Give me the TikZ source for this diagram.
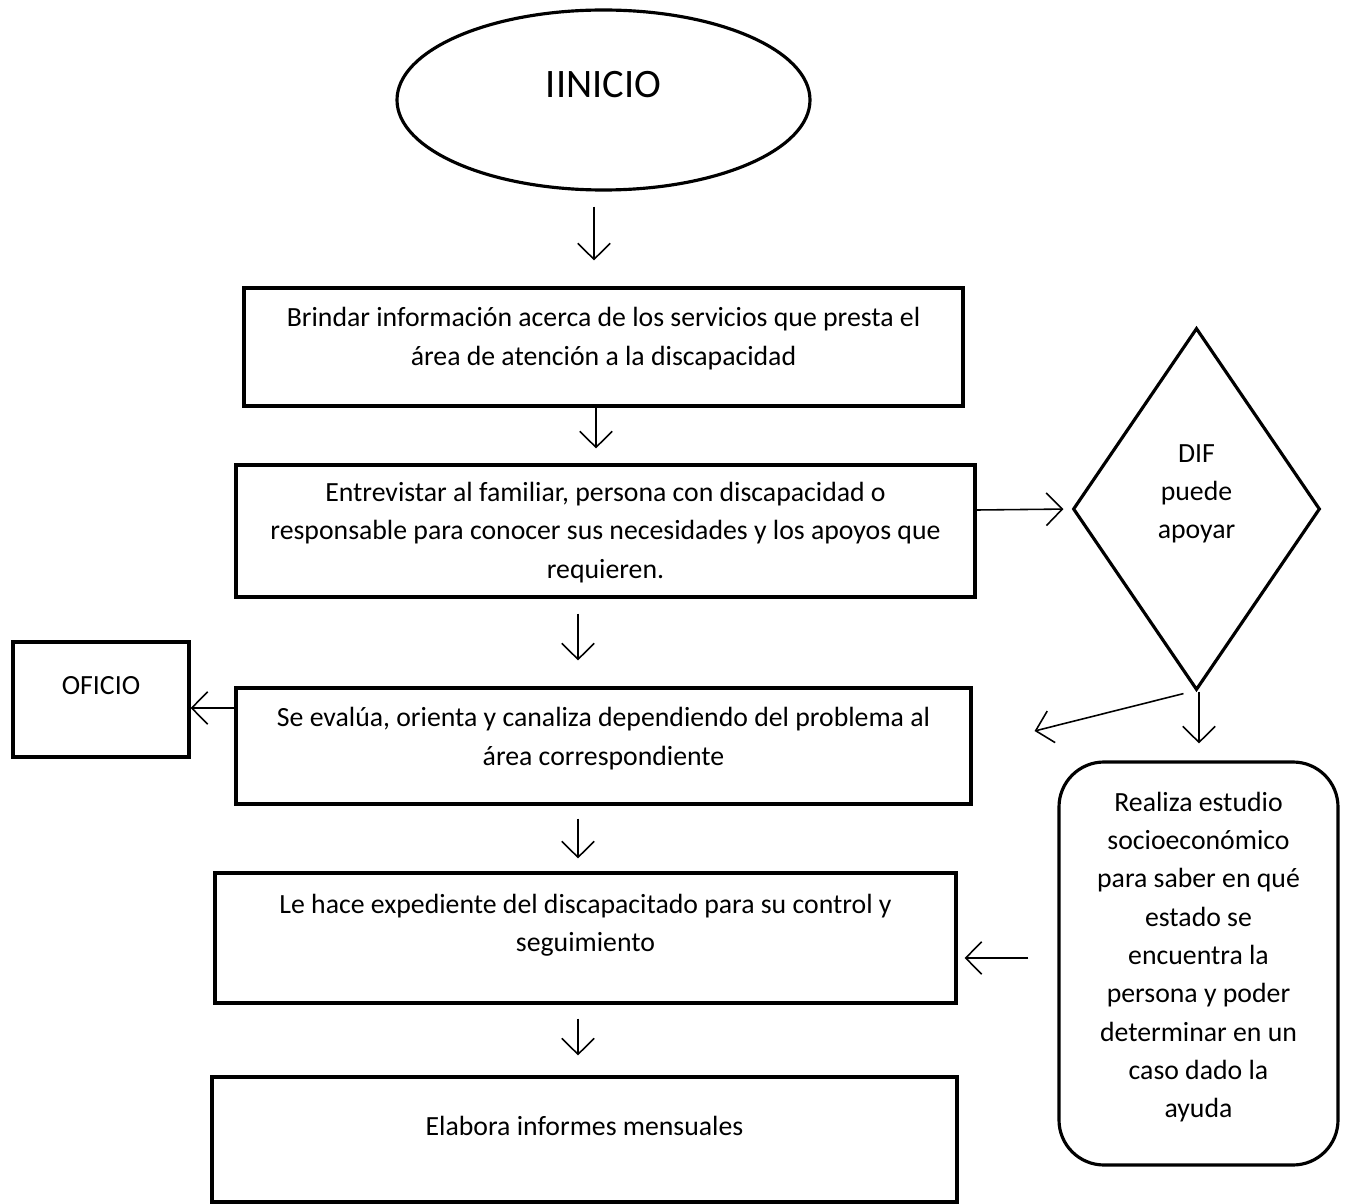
\documentclass[tikz,border=0pt]{standalone}
\usepackage{fontspec}
\setmainfont{Carlito}
\usepackage{tikz}
\usetikzlibrary{shapes.geometric,arrows.meta}

\begin{document}
\begin{tikzpicture}[
		paso/.style={draw, line width=1.8pt, rectangle},
		txt/.style={align=center, font=\fontsize{15.8}{21.8}\selectfont, inner sep=0pt},
		flecha/.style={-{Straight Barb[length=3.2mm,width=6.5mm]}, line width=0.9pt}
	]
		\useasboundingbox (0,0) rectangle (26.98,-24.08);
		
		% inicio
		\node [ellipse,draw,line width=1.8pt,minimum width=8.26cm,minimum height=3.6cm] (inicio) at (12.07,-2.0) {};
		\node [txt,font=\fontsize{23}{27}\selectfont] (tinicio) at (12.07,-1.7) {IINICIO};
		
		% pasos
		\node [paso,minimum width=14.38cm,minimum height=2.36cm] (brindar) at (12.07,-6.94) {};
		\node [txt] (tbrindar) at (12.07,-6.77) {Brindar información acerca de los servicios que presta el\\área de atención a la discapacidad};
		\node [paso,minimum width=14.78cm,minimum height=2.64cm] (entrevistar) at (12.11,-10.62) {};
		\node [txt] (tentrevistar) at (12.11,-10.65) {Entrevistar al familiar, persona con discapacidad o\\responsable para conocer sus necesidades y los apoyos que\\requieren.};
		\node [paso,minimum width=14.7cm,minimum height=2.32cm] (evalua) at (12.07,-14.92) {};
		\node [txt] (tevalua) at (12.07,-14.77) {Se evalúa, orienta y canaliza dependiendo del problema al\\área correspondiente};
		\node [paso,minimum width=3.52cm,minimum height=2.3cm] (oficio) at (2.02,-13.99) {};
		\node [txt] (toficio) at (2.02,-13.72) {OFICIO};
		\node [paso,minimum width=14.82cm,minimum height=2.6cm] (expediente) at (11.71,-18.76) {};
		\node [txt] (texpediente) at (11.71,-18.5) {Le hace expediente del discapacitado para su control y\\seguimiento};
		\node [paso,minimum width=14.9cm,minimum height=2.5cm] (informes) at (11.69,-22.79) {};
		\node [txt] (tinformes) at (11.69,-22.52) {Elabora informes mensuales};
		
		% lado derecho
		\node [diamond,draw,line width=1.8pt,minimum width=4.94cm,minimum height=7.24cm,inner sep=0pt] (dif) at (23.93,-10.18) {};
		\node [txt] (tdif) at (23.93,-9.88) {DIF\\puede\\apoyar};
		\node [paso,rounded corners=0.9cm,minimum width=5.58cm,minimum height=8.06cm] (estudio) at (23.97,-19.27) {};
		\node [txt] (testudio) at (23.97,-19.14) {Realiza estudio\\socioeconómico\\para saber en qué\\estado se\\encuentra la\\persona y poder\\determinar en un\\caso dado la\\ayuda};
		
		\draw [flecha,shorten <=0.3cm,shorten >=0.52cm] ([xshift=-0.19cm]inicio.south) to ([xshift=-0.19cm]brindar.north);
		\draw [flecha,shorten >=0.3cm] ([xshift=-0.15cm]brindar.south) to ([xshift=-0.15cm]brindar.south |- entrevistar.north);
		\draw [flecha,shorten <=0.3cm,shorten >=0.52cm] ([xshift=-0.55cm]entrevistar.south) to ([xshift=-0.55cm]entrevistar.south |- evalua.north);
		\draw [flecha,shorten <=0.26cm,shorten >=0.26cm] ([xshift=-0.51cm]evalua.south) to ([xshift=-0.51cm]evalua.south |- expediente.north);
		\draw [flecha,shorten <=0.28cm,shorten >=0.4cm] ([xshift=-0.15cm]expediente.south) to ([xshift=-0.15cm]expediente.south |- informes.north);
		
		\draw [flecha,shorten >=0.16cm] ([yshift=0.42cm]entrevistar.east) to (dif.west);
		\draw [flecha] ([yshift=0.76cm]evalua.west) to ([yshift=0.76cm]evalua.west -| oficio.east);
		\draw [flecha] ([xshift=-0.26cm,yshift=-0.04cm]dif.south) to ([xshift=1.24cm,yshift=0.3cm]evalua.east);
		\draw [flecha,shorten >=0.34cm] ([xshift=0.05cm]dif.south) to ([xshift=0.05cm]dif.south |- estudio.north);
		\draw [flecha,shorten <=0.58cm,shorten >=0.14cm] ([yshift=0.11cm]estudio.west) to ([yshift=0.11cm]estudio.west -| expediente.east);
\end{tikzpicture}
\end{document}
